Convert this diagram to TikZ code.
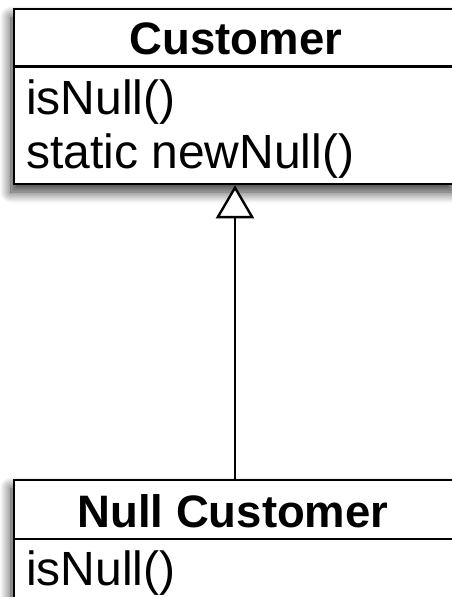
\documentclass[tikz,border=0pt]{standalone}
\usepackage{fontspec}
\setmainfont{Liberation Sans}
\usetikzlibrary{arrows.meta,shadows.blur}
\begin{document}
\begin{tikzpicture}[x=1pt,y=-1pt,
  classbox/.style={draw=black,fill=white,line width=2.6pt,rectangle,inner sep=0pt,
    blur shadow={shadow xshift=-3pt,shadow yshift=-8pt,shadow blur radius=11pt,shadow blur steps=12,shadow opacity=80}},
  sepline/.style={line width=2.6pt},
  titletext/.style={font=\fontsize{45.5}{50}\selectfont\bfseries,inner sep=0pt,anchor=base},
  optext/.style={font=\fontsize{48}{52}\selectfont,inner sep=0pt,anchor=base west},
  inherit/.style={line width=2pt,-{Triangle[fill=white,length=33pt,width=38pt,line width=2.4pt]}}
]
\useasboundingbox (0,0) rectangle (451,597);
% Customer box
\node[classbox,minimum width=442pt,minimum height=175pt] (cust) at (235,96.5) {};
\coordinate (csl) at (14,66.5);
\coordinate (csr) at (456,66.5);
\draw[sepline] (csl) -- (csr);
\node[titletext] (ctitle) at (236,54) {Customer};
\node[optext] (cop1) at (26,114) {isNull()};
\node[optext] (cop2) at (26,168) {static newNull()};
% Null Customer box
\node[classbox,minimum width=442pt,minimum height=118pt] (ncust) at (235,539) {};
\coordinate (nsl) at (14,539);
\coordinate (nsr) at (456,539);
\draw[sepline] (nsl) -- (nsr);
\node[titletext] (ntitle) at (233,527) {Null Customer};
\node[optext] (nop1) at (26,585) {isNull()};
% inheritance
\draw[inherit] (ncust.north) -- (cust.south);
\end{tikzpicture}
\end{document}
